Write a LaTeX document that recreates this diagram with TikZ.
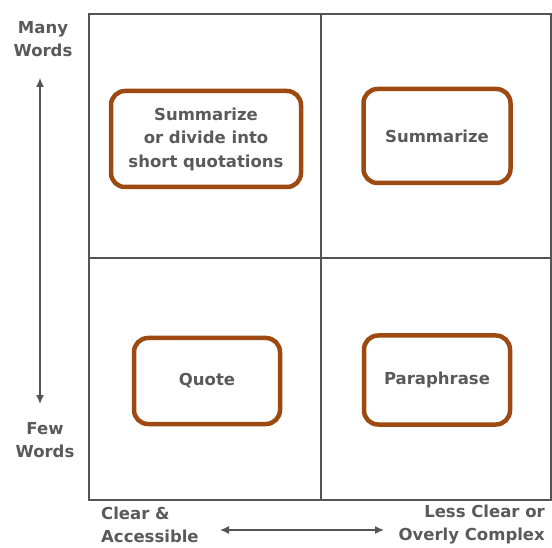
\documentclass[tikz,border=0pt]{standalone}
\usepackage{fontspec}
\setmainfont{DejaVu Sans}
\usetikzlibrary{arrows.meta}
\begin{document}
\begin{tikzpicture}[x=1pt,y=-1pt,
  gridline/.style={draw=linegray,line width=1.6pt},
  choice/.style={draw=boxbrown,line width=4.5pt,rounded corners=14pt,align=center,text=txtgray,font=\fontsize{16.5}{23.5}\selectfont\bfseries},
  axislabel/.style={text=txtgray,font=\fontsize{16.5}{23}\selectfont\bfseries,inner sep=0pt},
  axisarrow/.style={draw=linegray,line width=1.4pt,<->,>={Latex[length=9pt,width=8pt]}}]
\definecolor{boxbrown}{HTML}{9C4A12}
\definecolor{linegray}{HTML}{555555}
\definecolor{txtgray}{HTML}{5A5A5A}
\useasboundingbox (0,0) rectangle (552,548);
\draw[gridline] (89,14) rectangle (551,500);
\draw[gridline] (321,14) -- (321,500);
\draw[gridline] (89,258) -- (551,258);
\node[choice,minimum width=190pt,minimum height=96pt] (tl) at (206,139) {Summarize\\or divide into\\short quotations};
\node[choice,minimum width=147pt,minimum height=94pt] (tr) at (437,136) {Summarize};
\node[choice,minimum width=146pt,minimum height=86pt] (bl) at (207,381) {Quote};
\node[choice,minimum width=146pt,minimum height=89pt] (br) at (437,380) {Paraphrase};
\node[axislabel,align=center] (many) at (43,39) {Many\\Words};
\node[axislabel,align=center] (few) at (45,440) {Few\\Words};
\node[axislabel,align=left,anchor=west] (clear) at (101,525) {Clear \&\\Accessible};
\node[axislabel,align=right,anchor=east] (less) at (545,525) {Less Clear or\\Overly Complex};
\coordinate (vt) at (40,78);
\coordinate (vb) at (40,404);
\coordinate (hl) at (220,530);
\coordinate (hr) at (384,530);
\draw[axisarrow] (vt) -- (vb);
\draw[axisarrow] (hl) -- (hr);
\end{tikzpicture}
\end{document}
